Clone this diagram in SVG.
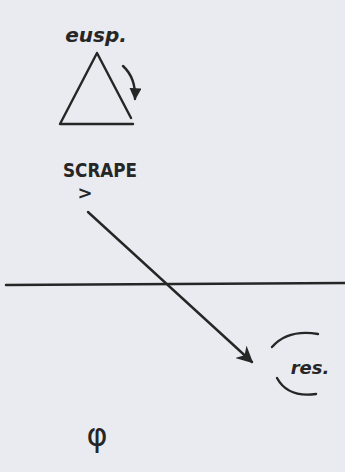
<svg xmlns="http://www.w3.org/2000/svg" width="345" height="472" viewBox="0 0 345 472">
<defs>
<style>
.ink{fill:none;stroke:#262626;stroke-width:2.4;stroke-linecap:round;stroke-linejoin:round}
.t{font-family:"DejaVu Sans","Liberation Sans",sans-serif;fill:#262626}
</style>
<marker id="ah" viewBox="0 0 10 10" refX="9" refY="5" markerWidth="5" markerHeight="5" orient="auto-start-reverse">
<path d="M0,0 L10,5 L0,10 z" fill="#262626"/>
</marker>
<marker id="ah2" viewBox="0 0 10 10" refX="9" refY="5" markerWidth="7" markerHeight="7" orient="auto-start-reverse">
<path d="M0,0 L10,5 L0,10 L3,5 z" fill="#262626"/>
</marker>
</defs>
<rect width="345" height="472" fill="#e9ebf0"/>
<g id="esp">
<text class="t" x="96" y="42" font-size="20" font-style="italic" font-weight="bold" text-anchor="middle">eusp.</text>
<path class="ink" d="M97,53 L60,124 L133,124 M97,53 L131,118"/>
<path class="ink" d="M123,66 Q136,78 135,99" marker-end="url(#ah)"/>
</g>
<g id="scrape">
<text class="t" x="100" y="177" font-size="19" font-weight="bold" text-anchor="middle" textLength="74" lengthAdjust="spacingAndGlyphs">SCRAPE</text>
<text class="t" x="85" y="199" font-size="18" font-weight="bold" text-anchor="middle">&gt;</text>
</g>
<g id="line">
<path class="ink" d="M6,285 L345,283" stroke-width="2"/>
</g>
<g id="res">
<path class="ink" d="M272,347 Q288,329 318,334"/>
<path class="ink" d="M277,378 Q288,398 316,394"/>
<text class="t" x="310" y="374" font-size="18" font-style="italic" font-weight="bold" text-anchor="middle">res.</text>
</g>
<g id="phi">
<text class="t" x="97" y="446" font-size="32" text-anchor="middle">φ</text>
</g>
<g id="connectors">
<path class="ink" d="M88,212 L252,362" stroke-width="2.2" marker-end="url(#ah2)"/>
</g>
</svg>
